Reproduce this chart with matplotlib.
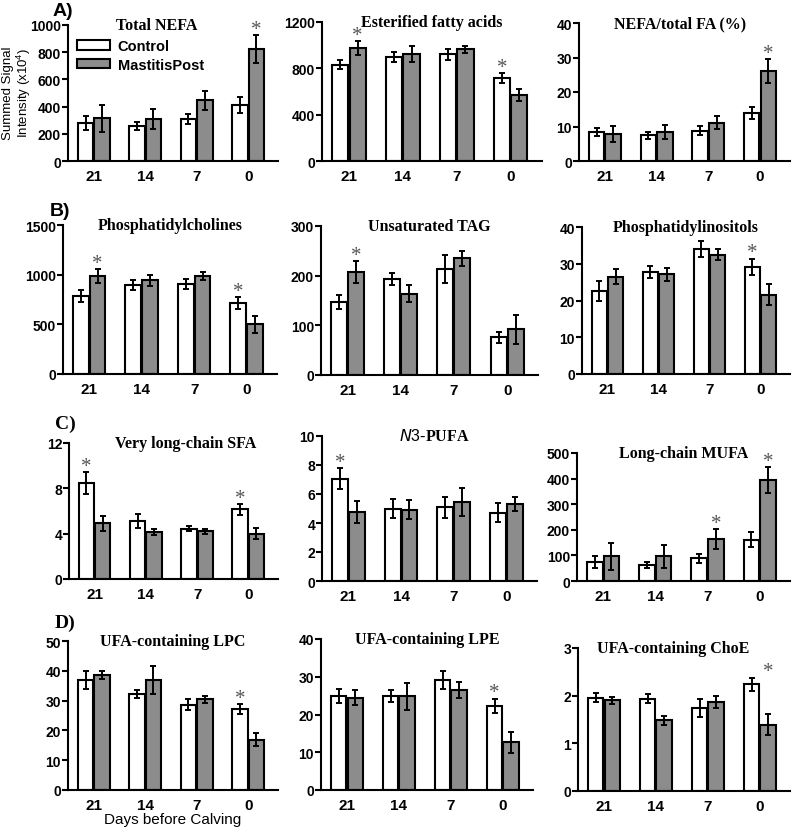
import matplotlib.pyplot as plt
import numpy as np

plt.rcParams['font.family'] = 'Liberation Sans'
plt.rcParams['mathtext.fontset'] = 'custom'
plt.rcParams['mathtext.rm'] = 'Liberation Sans'

days = ['21', '14', '7', '0']

# Control / MastitisPost means and SEM, one set per panel
nefa_ctrl = [280, 257, 310, 413]
nefa_ctrl_err = [52, 32, 37, 58]
nefa_mast = [313, 306, 445, 822]
nefa_mast_err = [100, 74, 67, 103]

esfa_ctrl = [832, 898, 921, 717]
esfa_ctrl_err = [36, 40, 50, 42]
esfa_mast = [975, 927, 964, 573]
esfa_mast_err = [57, 70, 32, 52]

ratio_ctrl = [8.4, 7.5, 8.8, 14.0]
ratio_ctrl_err = [1.2, 1.0, 1.3, 1.7]
ratio_mast = [7.8, 8.4, 11.1, 26.0]
ratio_mast_err = [2.3, 2.0, 1.8, 3.5]

pc_ctrl = [787, 897, 904, 716]
pc_ctrl_err = [58, 52, 50, 58]
pc_mast = [984, 944, 984, 502]
pc_mast_err = [72, 55, 42, 85]

tag_ctrl = [147, 193, 213, 76]
tag_ctrl_err = [15, 12, 28, 11]
tag_mast = [207, 164, 235, 92]
tag_mast_err = [22, 17, 15, 29]

pi_ctrl = [22.7, 27.8, 34.0, 29.2]
pi_ctrl_err = [2.7, 1.7, 2.1, 2.2]
pi_mast = [26.5, 27.1, 32.5, 21.6]
pi_mast_err = [2.0, 1.8, 1.5, 2.8]

sfa_ctrl = [8.47, 5.1, 4.45, 6.16]
sfa_ctrl_err = [1.0, 0.6, 0.25, 0.5]
sfa_mast = [4.9, 4.15, 4.2, 4.0]
sfa_mast_err = [0.67, 0.3, 0.2, 0.5]

n3_ctrl = [7.06, 5.0, 5.07, 4.72]
n3_ctrl_err = [0.72, 0.65, 0.73, 0.65]
n3_mast = [4.77, 4.93, 5.44, 5.3]
n3_mast_err = [0.75, 0.63, 0.98, 0.48]

mufa_ctrl = [74, 62, 88, 161]
mufa_ctrl_err = [24, 11, 17, 30]
mufa_mast = [97, 97, 165, 395]
mufa_mast_err = [53, 45, 40, 52]

lpc_ctrl = [36.9, 32.1, 28.6, 27.1]
lpc_ctrl_err = [3.0, 1.3, 1.8, 1.7]
lpc_mast = [38.7, 36.9, 30.4, 16.8]
lpc_mast_err = [1.4, 4.7, 1.3, 2.2]

lpe_ctrl = [24.9, 25.0, 29.1, 22.2]
lpe_ctrl_err = [1.8, 1.6, 2.4, 1.9]
lpe_mast = [24.5, 24.8, 26.6, 12.6]
lpe_mast_err = [2.1, 3.5, 2.1, 2.7]

choe_ctrl = [1.96, 1.94, 1.75, 2.24]
choe_ctrl_err = [0.1, 0.09, 0.19, 0.14]
choe_mast = [1.9, 1.48, 1.87, 1.39]
choe_mast_err = [0.08, 0.1, 0.13, 0.22]

titles = ['Total NEFA', 'Esterified fatty acids', 'NEFA/total FA (%)',
          'Phosphatidylcholines', 'Unsaturated TAG', 'Phosphatidylinositols',
          'Very long-chain SFA', '$\\it{N3}$-PUFA', 'Long-chain MUFA',
          'UFA-containing LPC', 'UFA-containing LPE', 'UFA-containing ChoE']

series = [(nefa_ctrl, nefa_ctrl_err, nefa_mast, nefa_mast_err),
          (esfa_ctrl, esfa_ctrl_err, esfa_mast, esfa_mast_err),
          (ratio_ctrl, ratio_ctrl_err, ratio_mast, ratio_mast_err),
          (pc_ctrl, pc_ctrl_err, pc_mast, pc_mast_err),
          (tag_ctrl, tag_ctrl_err, tag_mast, tag_mast_err),
          (pi_ctrl, pi_ctrl_err, pi_mast, pi_mast_err),
          (sfa_ctrl, sfa_ctrl_err, sfa_mast, sfa_mast_err),
          (n3_ctrl, n3_ctrl_err, n3_mast, n3_mast_err),
          (mufa_ctrl, mufa_ctrl_err, mufa_mast, mufa_mast_err),
          (lpc_ctrl, lpc_ctrl_err, lpc_mast, lpc_mast_err),
          (lpe_ctrl, lpe_ctrl_err, lpe_mast, lpe_mast_err),
          (choe_ctrl, choe_ctrl_err, choe_mast, choe_mast_err)]

yticks = [[0, 200, 400, 600, 800, 1000], [0, 400, 800, 1200], [0, 10, 20, 30, 40],
          [0, 500, 1000, 1500], [0, 100, 200, 300], [0, 10, 20, 30, 40],
          [0, 4, 8, 12], [0, 2, 4, 6, 8, 10], [0, 100, 200, 300, 400, 500],
          [0, 10, 20, 30, 40, 50], [0, 10, 20, 30, 40], [0, 1, 2, 3]]

# significance stars: (day index, 0=control / 1=mastitis)
stars = [[(3, 1)], [(0, 1), (3, 0)], [(3, 1)],
         [(0, 1), (3, 0)], [(0, 1)], [(3, 0)],
         [(0, 0), (3, 0)], [(0, 0)], [(2, 1), (3, 1)],
         [(3, 0)], [(3, 0)], [(3, 1)]]

# axes boxes in pixels (left, right, top, bottom)
boxes = [(68, 278, 26, 162), (322, 542, 23, 162), (579, 790, 24, 162),
         (63, 277, 226, 375), (321, 538, 227, 376), (582, 790, 228, 375),
         (69, 278, 444, 580), (322, 537, 437, 582), (577, 790, 454, 582),
         (68, 278, 642, 791), (321, 533, 640, 791), (578, 790, 649, 792)]
title_x = [0.42, 0.5, 0.48, 0.5, 0.5, 0.5, 0.56, 0.52, 0.5, 0.5, 0.5, 0.45]

W, H = 800, 828
fig = plt.figure(figsize=(W / 100, H / 100), dpi=100)
x = np.arange(len(days))
grey = '#8c8c8c'
ekw = dict(ecolor='black', elinewidth=1.4, capsize=2.5, capthick=1.4)

for i in range(12):
    l, r, t, b = boxes[i]
    ax = fig.add_axes([l / W, 1 - b / H, (r - l) / W, (b - t) / H])
    c, ce, m, me = series[i]
    ax.bar(x - 0.16, c, 0.3, yerr=ce, color='white', edgecolor='black',
           linewidth=1.5, error_kw=ekw, label='Control', zorder=2)
    ax.bar(x + 0.16, m, 0.3, yerr=me, color=grey, edgecolor='black',
           linewidth=1.5, error_kw=ekw, label='MastitisPost', zorder=2)
    top = yticks[i][-1]
    ax.set_ylim(0, top)
    ax.set_xlim(-0.5, 3.58)
    ax.set_yticks(yticks[i])
    ax.set_xticks(x)
    ax.set_xticklabels(days)
    for s in ['top', 'right']:
        ax.spines[s].set_visible(False)
    for s in ['left', 'bottom']:
        ax.spines[s].set_linewidth(1.5)
    ax.tick_params(axis='y', length=4, width=1.5, labelsize=10, pad=1)
    ax.tick_params(axis='x', length=0, labelsize=11, pad=6)
    for lab in ax.get_xticklabels() + ax.get_yticklabels():
        lab.set_fontweight('bold')
    ax.text(title_x[i], 1.0, titles[i], transform=ax.transAxes, ha='center',
            va='center', fontsize=11.5, fontweight='bold',
            family='Liberation Serif')
    for (g, s) in stars[i]:
        ytop = max(c[g] + ce[g], m[g] + me[g]) if i == 11 else \
            [c, m][s][g] + [ce, me][s][g]
        ax.text(x[g] + (0.16 if s else -0.16), ytop + 0.04 * top, '*',
                ha='center', va='center', fontsize=15, color='#555555',
                family='Liberation Serif')
    if i == 0:
        ax.legend(loc='upper left', bbox_to_anchor=(0.0, 0.96), frameon=False,
                  prop={'weight': 'bold', 'size': 10.5}, handlelength=2.3,
                  handleheight=0.6, labelspacing=0.3, borderaxespad=0.2,
                  handletextpad=0.5)
    if i == 9:
        ax.set_xlabel('Days before Calving', fontsize=11, labelpad=0)

fig.text(8 / W, 1 - 93 / H, 'Summed Signal', rotation=90,
         ha='center', va='center', fontsize=9.5)
fig.text(24 / W, 1 - 93 / H, 'Intensity (x10$^4$)', rotation=90,
         ha='center', va='center', fontsize=9.5)
fig.text(53 / W, 1 - 12 / H, 'A)', ha='left', va='center', fontsize=14,
         fontweight='bold')
fig.text(50 / W, 1 - 212 / H, 'B)', ha='left', va='center', fontsize=14,
         fontweight='bold')
fig.text(55 / W, 1 - 424 / H, 'C)', ha='left', va='center', fontsize=14,
         fontweight='bold', family='Liberation Serif')
fig.text(55 / W, 1 - 623 / H, 'D)', ha='left', va='center', fontsize=14,
         fontweight='bold', family='Liberation Serif')

fig.savefig('out.png', dpi=100)
